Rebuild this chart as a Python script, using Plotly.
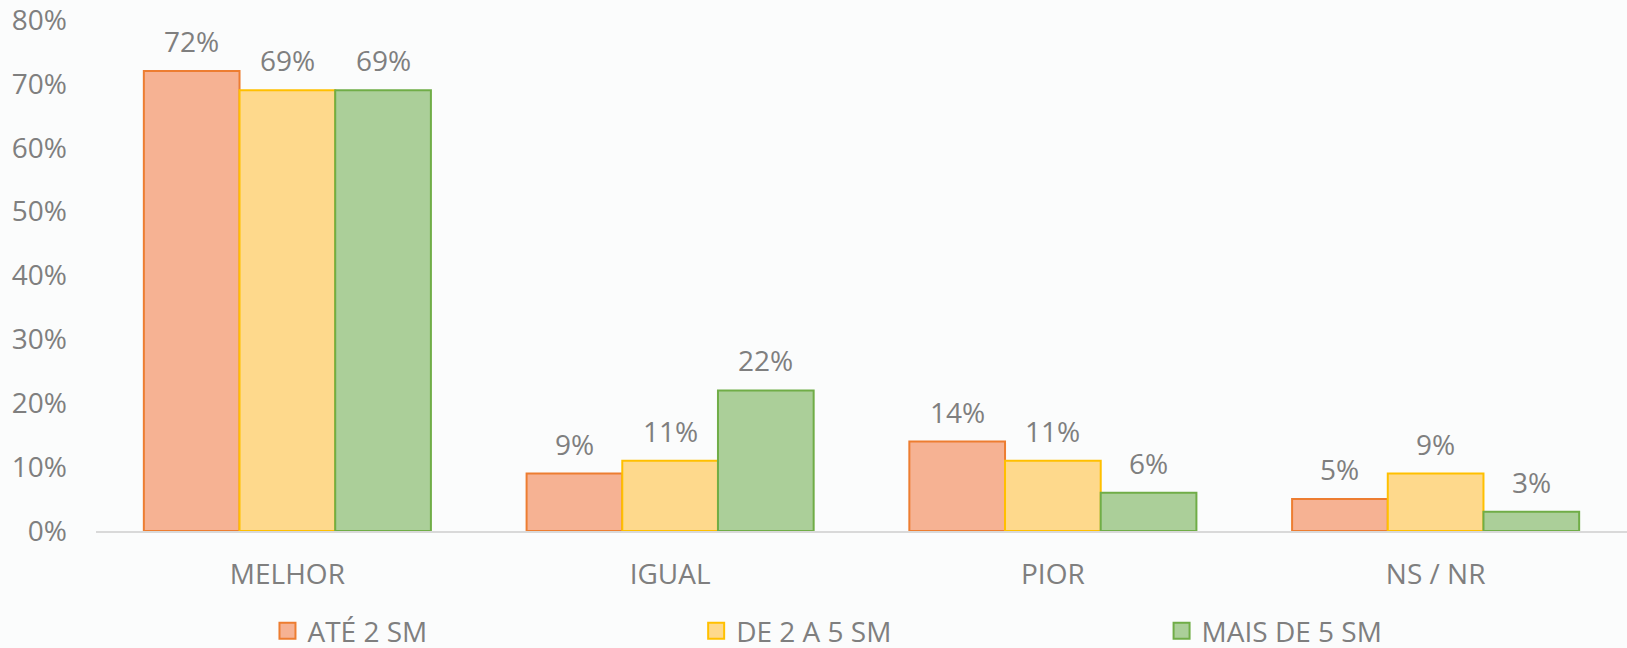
import plotly.graph_objects as go

categories = ["MELHOR", "IGUAL", "PIOR", "NS / NR"]
series_names = ["ATÉ 2 SM", "DE 2 A 5 SM", "MAIS DE 5 SM"]
ate_2_sm = [0.72, 0.09, 0.14, 0.05]
de_2_a_5_sm = [0.69, 0.11, 0.11, 0.09]
mais_de_5_sm = [0.69, 0.22, 0.06, 0.03]
y_tickvals = [0, 0.1, 0.2, 0.3, 0.4, 0.5, 0.6, 0.7, 0.8]
y_ticktext = ["0%", "10%", "20%", "30%", "40%", "50%", "60%", "70%", "80%"]

series_values = [ate_2_sm, de_2_a_5_sm, mais_de_5_sm]
fills = ["#f6b293", "#fed98c", "#abcf99"]
borders = ["#ed7d31", "#ffc000", "#70ad47"]
legend_names = ["legend", "legend2", "legend3"]
legend_x = [0.112, 0.392, 0.696]

W, H = 1627, 648
ML, MR, MT, MB = 96, 0, 20, 117
BARGAP = 0.25
FONT = "Open Sans, Noto Sans, sans-serif"
FS = 28
TXT = "#7f7f7f"

fig = go.Figure()
for i, (name, vals) in enumerate(zip(series_names, series_values)):
    fig.add_trace(go.Bar(
        x=categories, y=vals, name=name, showlegend=False,
        marker=dict(color=fills[i], line=dict(color=borders[i], width=2)),
    ))
    # legend-only entry with a larger square swatch
    fig.add_trace(go.Scatter(
        x=[None], y=[None], name=name, mode="markers", legend=legend_names[i],
        marker=dict(symbol="square", size=16, color=fills[i],
                    line=dict(color=borders[i], width=2)),
    ))

plot_w = W - ML - MR
bar_px = plot_w / len(categories) * (1 - BARGAP) / len(series_names)
annotations = []
for i, vals in enumerate(series_values):
    shift = (i - (len(series_names) - 1) / 2) * bar_px
    for c, v in zip(categories, vals):
        annotations.append(dict(
            x=c, y=v, xref="x", yref="y", text=f"{round(v*100)}%",
            showarrow=False, xshift=shift, yshift=30, yanchor="middle",
            font=dict(family=FONT, size=FS, color=TXT),
        ))

leg_common = dict(orientation="h", yref="paper", y=-0.196, yanchor="middle",
                  xanchor="left", bgcolor="rgba(0,0,0,0)", itemsizing="trace",
                  font=dict(family=FONT, size=FS, color=TXT), itemwidth=30)

fig.update_layout(
    width=W, height=H,
    margin=dict(l=ML, r=MR, t=MT, b=MB, pad=0, autoexpand=False),
    paper_bgcolor="#fbfcfc", plot_bgcolor="#fbfcfc",
    barmode="group", bargap=BARGAP, bargroupgap=0,
    font=dict(family=FONT, size=FS, color=TXT),
    showlegend=True,
    legend=dict(x=legend_x[0], **leg_common),
    legend2=dict(x=legend_x[1], **leg_common),
    legend3=dict(x=legend_x[2], **leg_common),
    annotations=annotations,
    xaxis=dict(showline=True, linecolor="#d9d9d9", linewidth=2, showgrid=False,
               automargin=False, ticks="", ticklabelstandoff=17,
               tickfont=dict(family=FONT, size=FS, color=TXT)),
    yaxis=dict(range=[0, 0.8], tickvals=y_tickvals, ticktext=y_ticktext, showgrid=False,
               automargin=False, zeroline=False, showline=False, ticks="",
               ticklabeloverflow="allow", ticklabelstandoff=28,
               tickfont=dict(family=FONT, size=FS, color=TXT)),
)

fig.write_html("out.html", config={"displayModeBar": False},
               post_script="document.body.style.margin='0';document.body.style.overflow='hidden';")
